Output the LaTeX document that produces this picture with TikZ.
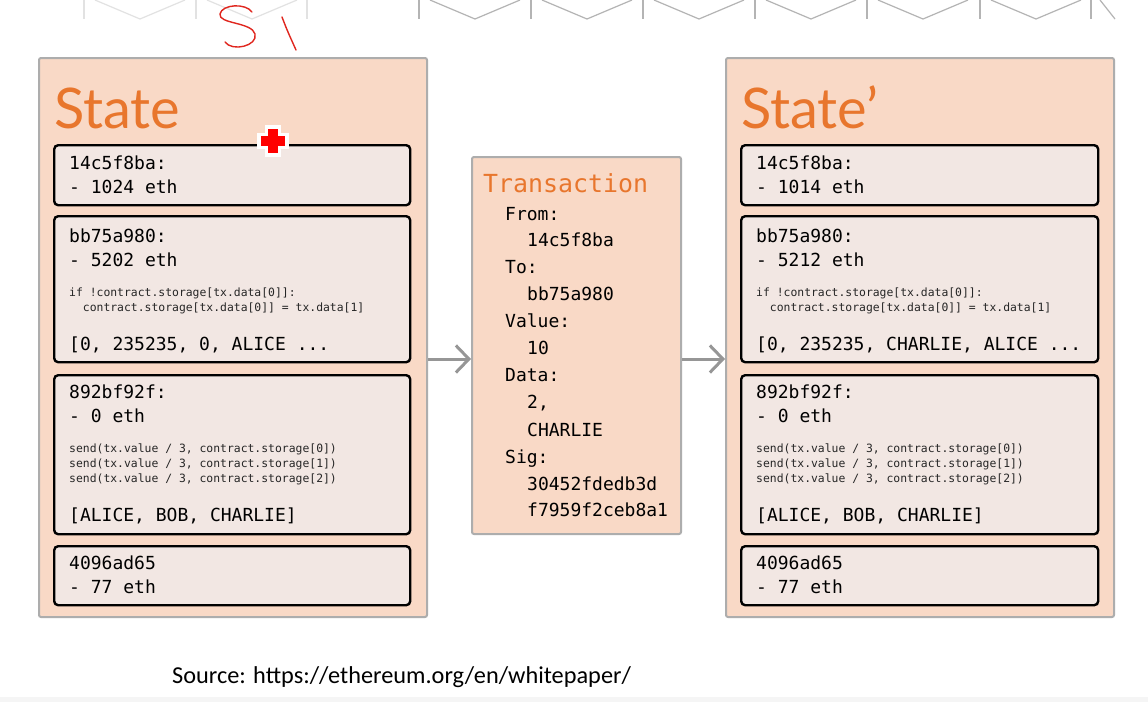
\documentclass[tikz,border=0pt]{standalone}
\usepackage{fontspec}
\usetikzlibrary{arrows.meta}
\newfontfamily\monof{DejaVu Sans Mono}
\newfontfamily\titlef{Lato}
\newfontfamily\srcf{Carlito}
\definecolor{peach}{HTML}{F9D9C6}
\definecolor{cellfill}{HTML}{F2E7E3}
\definecolor{outerline}{HTML}{ADADAD}
\definecolor{orangetxt}{HTML}{E8762D}
\definecolor{arrowgray}{HTML}{969696}
\definecolor{hexlight}{HTML}{E2E2E2}
\definecolor{hexdark}{HTML}{B4B4B4}
\definecolor{inkred}{HTML}{E0261E}
\tikzset{
  outerbox/.style={draw=outerline, fill=peach, line width=2pt, rounded corners=2pt},
  cellbox/.style={draw=black, fill=cellfill, line width=2.4pt, rounded corners=4pt},
  big/.style={anchor=base west, inner sep=0pt, font=\monof\fontsize{18}{18}\selectfont, text=black},
  small/.style={anchor=base west, inner sep=0pt, font=\monof\fontsize{11.4}{11.4}\selectfont, text=black!85},
  titletxt/.style={anchor=base west, inner sep=0pt, font=\titlef\fontsize{56}{56}\selectfont, text=orangetxt},
  txtitle/.style={anchor=base west, inner sep=0pt, font=\monof\fontsize{24.9}{24.9}\selectfont, text=orangetxt},
  flow/.style={draw=arrowgray, line width=3pt, -{Straight Barb[length=13pt,width=27pt,line width=3pt]}},
  ink/.style={inkred, line width=1.4pt, line cap=round, line join=round},
}
\begin{document}
\begin{tikzpicture}[x=1pt,y=-1pt]
\useasboundingbox (0,0) rectangle (1148,702);
\fill[white] (0,0) rectangle (1148,702);
\fill[black!4] (0,697) rectangle (1148,702);
% top decoration
\begin{scope}[line width=1.2pt]
\foreach \x in {84,196} {
  \draw[hexlight] (\x,0) -- (\x,19);
  \draw[hexlight] (\x+11,0) -- (\x+56,19) -- (\x+101,0);
}
\draw[hexlight] (307,0) -- (307,19);
\foreach \x in {419,531,643,755,867,980} {
  \draw[hexdark] (\x,0) -- (\x,19);
  \draw[hexdark] (\x+11,0) -- (\x+56,19) -- (\x+101,0);
}
\draw[hexdark] (1091,0) -- (1091,19);
\draw[hexdark] (1100,0) -- (1115,19);
\end{scope}
% handwritten annotation
\draw[ink] (252,12) .. controls (246,3) and (222,4) .. (220,14)
  .. controls (218,24) and (252,22) .. (255,34)
  .. controls (258,46) and (232,52) .. (225,42);
\draw[ink] (282,17) .. controls (287,30) .. (296,50);

% ---------------- left state ----------------
\node[outerbox, minimum width=388pt, minimum height=559pt, anchor=north west, inner sep=0pt] (S) at (38,57) {};
\node[titletxt] (St) at (54,128) {State};
\node[cellbox, minimum width=356pt, minimum height=60pt, anchor=north west, inner sep=0pt] (a1) at (53,144) {};
\node[big] (a1l1) at (69,169) {14c5f8ba:};
\node[big] (a1l2) at (69,193) {- 1024 eth};
\node[cellbox, minimum width=356pt, minimum height=146pt, anchor=north west, inner sep=0pt] (a2) at (53,215) {};
\node[big] (a2l1) at (69,242) {bb75a980:};
\node[big] (a2l2) at (69,266) {- 5202 eth};
\node[small] (a2c1) at (69,296) {if !contract.storage[tx.data[0]]:};
\node[small] (a2c2) at (69,311) {\ \ contract.storage[tx.data[0]] = tx.data[1]};
\node[big] (a2l3) at (69,350) {[0, 235235, 0, ALICE ...};
\node[cellbox, minimum width=356pt, minimum height=159pt, anchor=north west, inner sep=0pt] (a3) at (53,374) {};
\node[big] (a3l1) at (69,398) {892bf92f:};
\node[big] (a3l2) at (69,422.5) {- 0 eth};
\node[small] (a3c1) at (69,452.5) {send(tx.value / 3, contract.storage[0])};
\node[small] (a3c2) at (69,467.5) {send(tx.value / 3, contract.storage[1])};
\node[small] (a3c3) at (69,482.5) {send(tx.value / 3, contract.storage[2])};
\node[big] (a3l3) at (69,521.5) {[ALICE, BOB, CHARLIE]};
\node[cellbox, minimum width=356pt, minimum height=59pt, anchor=north west, inner sep=0pt] (a4) at (53,545) {};
\node[big] (a4l1) at (69,569.5) {4096ad65};
\node[big] (a4l2) at (69,593.5) {- 77 eth};

% ---------------- transaction ----------------
\node[outerbox, minimum width=209pt, minimum height=377pt, anchor=north west, inner sep=0pt] (T) at (471,156) {};
\node[txtitle] (Tt) at (483,192.5) {Transaction};
\node[big] (t1) at (505,220) {From:};
\node[big] (t2) at (527,246.7) {14c5f8ba};
\node[big] (t3) at (505,273.3) {To:};
\node[big] (t4) at (527,300.7) {bb75a980};
\node[big] (t5) at (505,327.7) {Value:};
\node[big] (t6) at (527,354) {10};
\node[big] (t7) at (505,381.7) {Data:};
\node[big] (t8) at (527,408.3) {2,};
\node[big] (t9) at (527,436) {CHARLIE};
\node[big] (t10) at (505,463.3) {Sig:};
\node[big] (t11) at (527,490) {30452fdedb3d};
\node[big] (t12) at (527,516.7) {f7959f2ceb8a1};

% ---------------- right state ----------------
\node[outerbox, minimum width=388pt, minimum height=559pt, anchor=north west, inner sep=0pt] (R) at (725,57) {};
\node[titletxt] (Rt) at (741,128) {State’};
\node[cellbox, minimum width=357pt, minimum height=60pt, anchor=north west, inner sep=0pt] (b1) at (740,144) {};
\node[big] (b1l1) at (756,169) {14c5f8ba:};
\node[big] (b1l2) at (756,193) {- 1014 eth};
\node[cellbox, minimum width=357pt, minimum height=146pt, anchor=north west, inner sep=0pt] (b2) at (740,215) {};
\node[big] (b2l1) at (756,242) {bb75a980:};
\node[big] (b2l2) at (756,266) {- 5212 eth};
\node[small] (b2c1) at (756,296) {if !contract.storage[tx.data[0]]:};
\node[small] (b2c2) at (756,311) {\ \ contract.storage[tx.data[0]] = tx.data[1]};
\node[big] (b2l3) at (756,350) {[0, 235235, CHARLIE, ALICE ...};
\node[cellbox, minimum width=357pt, minimum height=159pt, anchor=north west, inner sep=0pt] (b3) at (740,374) {};
\node[big] (b3l1) at (756,398) {892bf92f:};
\node[big] (b3l2) at (756,422.5) {- 0 eth};
\node[small] (b3c1) at (756,452.5) {send(tx.value / 3, contract.storage[0])};
\node[small] (b3c2) at (756,467.5) {send(tx.value / 3, contract.storage[1])};
\node[small] (b3c3) at (756,482.5) {send(tx.value / 3, contract.storage[2])};
\node[big] (b3l3) at (756,521.5) {[ALICE, BOB, CHARLIE]};
\node[cellbox, minimum width=357pt, minimum height=59pt, anchor=north west, inner sep=0pt] (b4) at (740,545) {};
\node[big] (b4l1) at (756,569.5) {4096ad65};
\node[big] (b4l2) at (756,593.5) {- 77 eth};

% arrows
\draw[flow] (S.east |- 0,359) -- (T.west |- 0,359);
\draw[flow] (T.east |- 0,359) -- (R.west |- 0,359);

% cursor
\fill[white] (265,125) rectangle (281,157);
\fill[white] (257,133) rectangle (289,149);
\fill[red] (268,129) rectangle (278,153);
\fill[red] (261,136) rectangle (285,146);

% source
\node[anchor=base west, inner sep=0pt, font=\srcf\fontsize{24.3}{24.3}\selectfont] (src) at (172,683) {Source: https://ethereum.org/en/whitepaper/};
\end{tikzpicture}
\end{document}
